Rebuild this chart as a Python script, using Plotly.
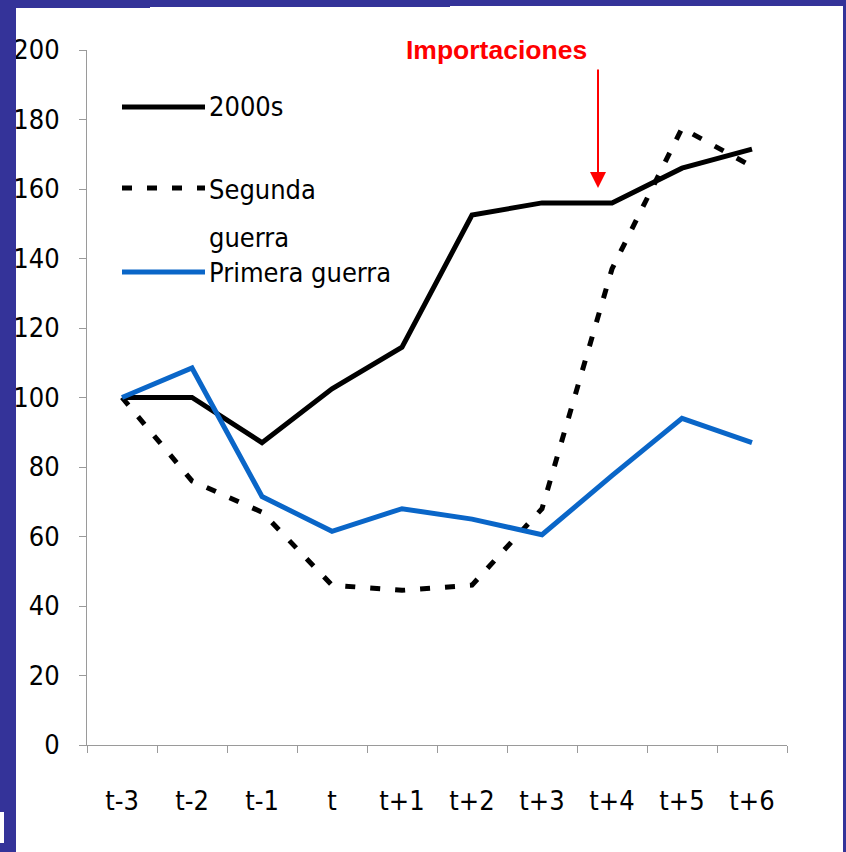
import plotly.graph_objects as go

categories = ["t-3", "t-2", "t-1", "t", "t+1", "t+2", "t+3", "t+4", "t+5", "t+6"]
s2000 = [100, 100, 87, 102.5, 114.5, 152.5, 156, 156, 166, 171.5]
segunda = [100, 76, 67, 46, 44.5, 46, 68, 137, 177.5, 166.5]
primera = [100, 108.5, 71.5, 61.5, 68, 65, 60.5, 77.5, 94, 87]
series_names = ["2000s", "Segunda guerra", "Primera guerra"]
yticks = [0, 20, 40, 60, 80, 100, 120, 140, 160, 180, 200]

W, H = 846, 852
L, R, T, B = 87, 787, 50, 745


def px(x):
    return (x - L) / (R - L)


def py(y):
    return (B - y) / (B - T)


FONT = "DejaVu Sans Condensed, Liberation Sans Narrow, sans-serif"
FS = 27
BLUE = "#0a66c8"

fig = go.Figure()
fig.add_trace(go.Scatter(x=categories, y=s2000, mode="lines", name=series_names[0],
                         line=dict(color="black", width=5), showlegend=False))
fig.add_trace(go.Scatter(x=categories, y=segunda, mode="lines", name=series_names[1],
                         line=dict(color="black", width=5, dash="10px,15px"), showlegend=False))
fig.add_trace(go.Scatter(x=categories, y=primera, mode="lines", name=series_names[2],
                         line=dict(color=BLUE, width=5), showlegend=False))

shapes = []
# outer blue frame
FRAME = "#343399"
frame_rects = [(-10, -10, 16, 862), (-10, -10, 856, 6), (-10, -10, 450, 7), (-10, -10, 150, 8),
               (843, -10, 856, 862)]
for x0, y0, x1, y1 in frame_rects:
    shapes.append(dict(type="rect", xref="paper", yref="paper",
                       x0=px(x0), x1=px(x1), y0=py(y1), y1=py(y0),
                       fillcolor=FRAME, line=dict(width=0), layer="above"))
shapes.append(dict(type="rect", xref="paper", yref="paper",
                   x0=px(-10), x1=px(4), y0=py(843), y1=py(812),
                   fillcolor="white", line=dict(width=0), layer="above"))

# manual legend
leg_y = [107, 188, 272]
leg_styles = [dict(color="black", width=5), dict(color="black", width=5, dash="10px,15px"),
              dict(color=BLUE, width=5)]
for yy, st in zip(leg_y, leg_styles):
    shapes.append(dict(type="line", xref="paper", yref="paper",
                       x0=px(122), x1=px(205), y0=py(yy), y1=py(yy), line=st))

annotations = []
leg_texts = [("2000s", 107), ("Segunda", 190), ("guerra", 237), ("Primera guerra", 272)]
for txt, yy in leg_texts:
    annotations.append(dict(text=txt, xref="paper", yref="paper", x=px(207), y=py(yy),
                            xanchor="left", yanchor="middle", showarrow=False,
                            font=dict(family=FONT, size=FS, color="black")))
# clip of the last legend label
shapes.append(dict(type="rect", xref="paper", yref="paper",
                   x0=px(205), x1=px(400), y0=py(300), y1=py(287),
                   fillcolor="white", line=dict(width=0), layer="above"))

annotations.append(dict(text="<b>Importaciones</b>", xref="paper", yref="paper",
                        x=px(496), y=py(50), xanchor="center", yanchor="middle",
                        showarrow=False, font=dict(family="Liberation Sans, Arial, sans-serif",
                                                   size=26.5, color="red")))
annotations.append(dict(text="", xref="paper", yref="paper", x=px(598), y=py(188),
                        ax=0, ay=-120, showarrow=True, arrowhead=2, arrowsize=1.6,
                        arrowwidth=2, arrowcolor="red"))

fig.update_layout(
    width=W, height=H,
    margin=dict(l=L, r=W - R, t=T, b=H - B, autoexpand=False),
    paper_bgcolor="white", plot_bgcolor="white",
    shapes=shapes, annotations=annotations,
    xaxis=dict(type="category", categoryorder="array", categoryarray=categories,
               range=[-0.5, len(categories) - 0.5],
               showline=True, linecolor="#9a9a9a", linewidth=1,
               ticks="outside", tickson="boundaries", ticklen=7, tickcolor="#9a9a9a",
               showgrid=False, zeroline=False, ticklabelstandoff=32,
               tickfont=dict(family=FONT, size=FS, color="black")),
    yaxis=dict(range=[0, 200], tickvals=yticks, showline=True, linecolor="#9a9a9a",
               linewidth=1, ticks="outside", ticklen=7, tickcolor="#9a9a9a",
               showgrid=False, zeroline=False, ticklabelstandoff=14,
               tickfont=dict(family=FONT, size=FS, color="black")),
)

fig.write_html("out.html", config={"displayModeBar": False},
               post_script="document.body.style.margin='0';document.body.style.overflow='hidden';")
